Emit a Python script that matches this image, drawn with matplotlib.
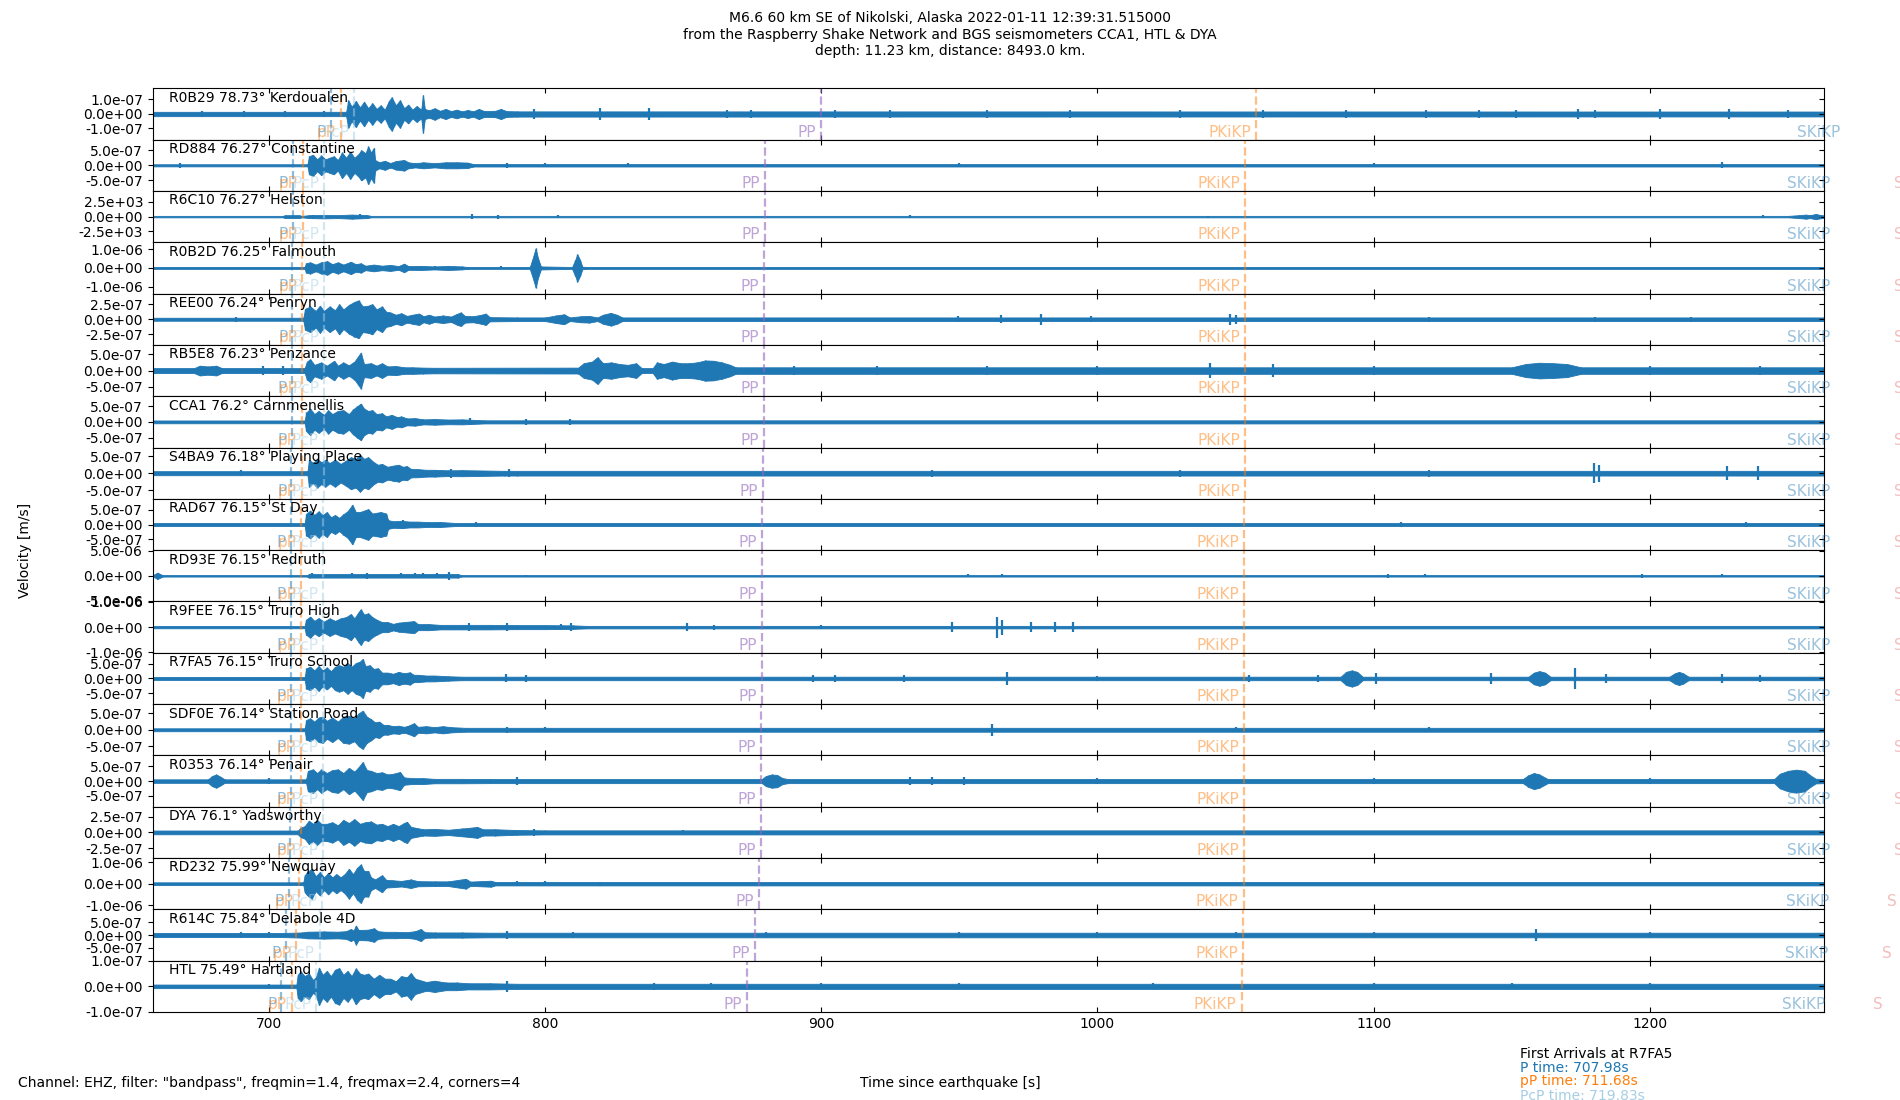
import numpy as np
import matplotlib
matplotlib.use('Agg')
import matplotlib.pyplot as plt
from matplotlib.ticker import FormatStrFormatter
from matplotlib.lines import TICKLEFT

# station info, top to bottom
codes = ['R0B29', 'RD884', 'R6C10', 'R0B2D', 'REE00', 'RB5E8', 'CCA1', 'S4BA9', 'RAD67',
         'RD93E', 'R9FEE', 'R7FA5', 'SDF0E', 'R0353', 'DYA', 'RD232', 'R614C', 'HTL']
dists = ['78.73', '76.27', '76.27', '76.25', '76.24', '76.23', '76.2', '76.18', '76.15',
         '76.15', '76.15', '76.15', '76.14', '76.14', '76.1', '75.99', '75.84', '75.49']
places = ['Kerdoualen', 'Constantine', 'Helston', 'Falmouth', 'Penryn', 'Penzance', 'Carnmenellis',
          'Playing Place', 'St Day', 'Redruth', 'Truro High', 'Truro School', 'Station Road',
          'Penair', 'Yadsworthy', 'Newquay', 'Delabole 4D', 'Hartland']
tick_units = [1e-7, 5e-7, 2.5e3, 1e-6, 2.5e-7, 5e-7, 5e-7, 5e-7, 5e-7,
              5e-6, 1e-6, 5e-7, 5e-7, 5e-7, 2.5e-7, 1e-6, 5e-7, 1e-7]
y_half = [1.77, 1.7, 1.75, 1.37, 1.7, 1.57, 1.64, 1.52, 1.75,
          1.02, 1.02, 1.75, 1.57, 1.75, 1.64, 1.2, 2.0, 1.0]

# arrival times [s]
t_P = [722.4, 708.6, 708.6, 708.5, 708.5, 708.4, 708.3, 708.2, 708.0,
       708.0, 708.0, 707.98, 707.95, 707.95, 707.8, 707.2, 706.2, 704.6]
t_pP = [726.1, 712.3, 712.3, 712.2, 712.2, 712.1, 712.0, 711.9, 711.7,
        711.7, 711.7, 711.68, 711.65, 711.65, 711.5, 710.9, 709.9, 708.3]
t_PcP = [730.9, 720.1, 720.1, 720.0, 720.0, 720.0, 719.9, 719.9, 719.8,
         719.8, 719.8, 719.83, 719.8, 719.8, 719.7, 719.3, 718.5, 717.1]
t_PP = [900.0, 879.5, 879.5, 879.4, 879.4, 879.3, 879.2, 879.0, 878.6,
        878.5, 878.4, 878.4, 878.3, 878.3, 878.1, 877.3, 876.0, 873.0]
t_PKiKP = [1057.5, 1053.4, 1053.4, 1053.4, 1053.4, 1053.3, 1053.3, 1053.3, 1053.2,
           1053.2, 1053.2, 1053.2, 1053.2, 1053.2, 1053.1, 1052.9, 1052.6, 1052.2]
t_SKiKP = [1270.8, 1267.2, 1267.2, 1267.2, 1267.2, 1267.1, 1267.1, 1267.0, 1267.0,
           1267.0, 1267.0, 1267.0, 1267.0, 1267.0, 1266.9, 1266.6, 1266.2, 1265.4]
t_S = [1310.0, 1293.8, 1293.8, 1293.8, 1293.8, 1293.8, 1293.8, 1293.8, 1293.8,
       1293.8, 1293.8, 1293.8, 1293.8, 1293.8, 1293.8, 1291.3, 1289.5, 1286.2]

# trace envelopes: (time s, half-amplitude in tick units)
env_kerdoualen = [(658, .15), (728, .15), (728.8, .95), (730, .5), (731.5, .9), (733, .45), (734.5, .85),
                  (736, .4), (737.5, .75), (739, .35), (740.5, .6), (742, .3), (743.5, .9), (744.5, 1.15),
                  (746, .6), (747.5, .95), (749, .4), (750.5, .65), (752, .3), (753.5, .55), (755.2, .3),
                  (755.8, 1.3), (756.5, .35), (758, .25), (760, .4), (762, .22), (764, .35), (766, .2),
                  (768, .3), (770, .18), (772, .28), (774, .18), (776, .35), (778, .2), (782, .22),
                  (784, .35), (786, .2), (790, .18), (1263, .17)]
spk_kerdoualen = [(676, .22), (691, .2), (706, .22), (720, .22), (796, .32), (820, .42), (837.6, .42),
                  (866, .28), (874.4, .27), (905, .25), (925, .25), (960, .27), (990, .25), (1030, .27),
                  (1060, .28), (1090, .25), (1119, .3), (1138, .28), (1151.5, .28), (1174, .32),
                  (1180, .28), (1203.5, .32), (1228.7, .32), (1250, .3)]

env_constantine = [(658, .07), (714, .07), (714.6, .6), (716, .7), (717.5, .4), (719, .65), (720.5, .4),
                   (722, .5), (723.5, .6), (725, .35), (726.5, .85), (728, .5), (729.5, .9), (731, .5),
                   (732.5, .75), (733.5, 1.0), (735, .8), (736, 1.25), (737, .85), (738, 1.15),
                   (738.5, .35), (740, .2), (742, .3), (744, .15), (746, .28), (749, .35), (750.5, .2),
                   (753, .14), (756, .2), (760, .14), (764, .2), (768, .2), (772, .18), (774, .08), (1263, .08)]
spk_constantine = [(668, .15), (786.4, .15), (800, .12), (830, .12), (950, .12), (1100, .12), (1226, .2)]

env_helston = [(658, .05), (705, .05), (706, .1), (711, .1), (712, .05), (714.6, .1), (720, .12),
               (725, .1), (730, .14), (735.7, .1), (737, .05), (1250, .05), (1254, .1), (1256.4, .14),
               (1258, .1), (1260, .18), (1261.5, .12), (1263, .08)]
spk_helston = [(716, .14), (733, .16), (773.7, .19), (782.8, .14), (804.8, .1), (932, .12), (1040, .07),
               (1241, .08)]

env_falmouth = [(658, .05), (713, .05), (713.5, .25), (715, .3), (717, .18), (719, .3), (721.2, .36),
                (723, .2), (725, .3), (727, .18), (729.7, .33), (731.5, .2), (733.3, .25), (735, .12),
                (738, .18), (741, .12), (744, .16), (747, .1), (749, .23), (750.5, .1), (755, .11),
                (760, .08), (765, .11), (770, .08), (772, .05), (794.5, .05), (795.5, .5), (796.6, 1.05),
                (797.5, .5), (798.5, .08), (809.8, .05), (811, .45), (811.7, .73), (812.6, .45),
                (813.5, .07), (815, .05), (1263, .05)]
spk_falmouth = [(760, .12), (784, .08)]

env_penryn = [(658, .1), (712.5, .1), (713.2, .7), (715, .85), (717, .55), (718.5, .9), (720, .55),
              (722, .85), (724, .6), (725.5, 1.0), (727, .65), (729, .95), (731, 1.15), (732.5, 1.25),
              (734, .85), (736, .9), (737.5, 1.0), (739, .65), (741, .85), (742.5, .5), (744, .45),
              (746, .3), (748, .4), (750, .22), (752, .3), (754.4, .38), (756, .2), (758, .3),
              (760, .18), (763, .25), (766, .18), (768, .35), (769.5, .45), (771, .22), (774, .2),
              (777, .3), (778.5, .38), (780, .14), (790, .12), (800, .12), (804, .25), (806.9, .33),
              (809, .12), (813, .2), (816, .22), (819, .12), (821, .3), (823.8, .42), (826, .3),
              (828, .12), (1263, .12)]
spk_penryn = [(688, .15), (949.6, .2), (965, .25), (979.4, .35), (997.8, .2), (1048, .35), (1050, .3),
              (1120, .15), (1180, .17), (1215, .15)]

env_penzance = [(658, .15), (673, .15), (675, .3), (678, .25), (681, .3), (683, .15), (713, .15),
                (713.8, .55), (715, .7), (716.5, .35), (719, .5), (721, .3), (723.7, .6), (725, .3),
                (727, .5), (729, .32), (731, .55), (733.3, 1.1), (734.5, .4), (737, .45), (739, .3),
                (741, .45), (743, .25), (746, .28), (749, .2), (752, .2), (756, .18), (760, .17),
                (812, .18), (814, .45), (817, .55), (819, .82), (821, .45), (824, .5), (827, .4),
                (830, .35), (833, .45), (835, .15), (839, .15), (840.5, .5), (843, .4), (846, .55),
                (849, .45), (852, .45), (855, .5), (858, .62), (861, .6), (864, .5), (867, .35),
                (869, .2), (1150, .2), (1155, .4), (1160, .48), (1165, .45), (1170, .4), (1175, .2),
                (1263, .2)]
spk_penzance = [(698, .25), (705, .25), (890, .25), (920, .25), (960, .25), (1000, .25), (1040.8, .45),
                (1063.6, .38), (1100, .25), (1200, .25), (1240, .28)]

env_carnmenellis = [(658, .09), (713, .09), (713.6, .6), (715, .85), (716.5, .5), (718, .7), (720, .45),
                    (721.5, .75), (723, .5), (725, .7), (727, .75), (729, .5), (730.5, .8), (732, 1.0),
                    (733.3, 1.17), (734.5, .85), (736, .7), (737.5, .75), (739, .5), (741, .55),
                    (742.5, .35), (744.5, .45), (746.5, .3), (748, .35), (750, .22), (753, .24),
                    (756, .16), (760, .18), (765, .15), (770, .16), (778, .1), (1263, .1)]
spk_carnmenellis = [(773, .22), (793, .2), (809, .18)]

env_playing = [(658, .12), (714, .12), (714.6, .8), (716, .6), (717.5, .85), (719, .65), (720.5, .8),
               (722, .6), (724, .8), (726, .55), (728, .75), (729.7, .95), (731.5, .85), (733, 1.1),
               (734.5, .85), (736, .95), (738, .65), (739.5, .5), (741, .55), (743, .38), (745, .45),
               (747, .5), (748.5, .38), (750, .42), (751.5, .25), (754, .24), (757, .2), (760, .2),
               (765, .17), (770, .18), (785, .14), (790, .14), (1263, .14)]
spk_playing = [(690, .17), (766, .26), (787, .25), (940, .2), (1030, .2), (1120, .2), (1179.8, .6),
               (1181.5, .5), (1228, .4), (1239, .42)]

env_stday = [(658, .1), (713, .1), (713.6, .75), (715, .95), (716.5, .65), (718, .9), (719.5, .65),
             (721, .85), (722.5, .5), (724, .65), (725.5, .45), (727, .7), (728.5, .9), (730.3, 1.35),
             (731.5, .85), (733, .85), (734.5, .95), (736, 1.05), (737.5, .75), (739, .8), (740.5, .85),
             (742.5, .75), (743.2, .3), (745, .22), (748, .25), (751, .2), (754, .2), (758, .16),
             (762, .17), (768, .1), (1263, .1)]
spk_stday = [(748.5, .32), (775, .18), (1110, .14), (1234.6, .2)]

env_redruth = [(658, .03), (659, .08), (659.7, .13), (660.5, .08), (661.5, .03), (714, .03), (714.5, .07),
               (768.5, .07), (769.5, .03), (1263, .03)]
spk_redruth = [(715.5, .1), (730, .1), (735.7, .11), (747.8, .1), (753, .1), (756, .1), (761, .1),
               (765.3, .16), (793, .05), (953, .06), (965.6, .06), (1105, .07), (1118.4, .06),
               (1197, .07), (1226, .06)]

env_truro_high = [(658, .045), (713, .045), (713.5, .3), (715, .42), (716.5, .25), (718, .36), (720, .22),
                  (722, .35), (724, .25), (726, .35), (728, .4), (729.7, .52), (731, .35), (732.5, .6),
                  (733.3, .71), (734.5, .5), (736, .55), (737.5, .4), (739, .3), (741, .2), (743, .2),
                  (745, .13), (747, .18), (752.6, .24), (754, .12), (758, .12), (762, .09), (770, .09),
                  (780, .09), (790, .08), (800, .08), (810, .07), (815, .05), (1263, .05)]
spk_truro_high = [(772.5, .16), (786.4, .16), (805.7, .13), (809.3, .15), (851.5, .16), (861, .1),
                  (900, .08), (947.4, .2), (963.6, .42), (965.5, .3), (975.9, .2), (984.6, .2), (991, .2)]

env_truro_school = [(658, .1), (713, .1), (713.6, .7), (715, .8), (716.5, .55), (718, .85), (719.5, .55),
                    (721, .75), (722.5, .5), (724, .8), (725.5, .9), (727, .8), (728.5, 1.05), (730, .8),
                    (731.5, 1.05), (733, 1.15), (734, 1.34), (735, .85), (736.5, .9), (738, .65),
                    (739.5, .7), (741, .4), (743, .4), (745, .32), (747, .45), (749, .35), (751, .42),
                    (752.5, .25), (754, .25), (757, .2), (760, .2), (765, .15), (770, .12),
                    (1088, .12), (1090, .45), (1092, .55), (1094, .45), (1096, .12),
                    (1156, .12), (1158, .4), (1160, .5), (1162, .4), (1164, .12),
                    (1207, .12), (1209, .35), (1210.5, .45), (1212, .35), (1214, .12), (1263, .12)]
spk_truro_school = [(786, .27), (793, .22), (897, .25), (905, .25), (930, .22), (967.1, .45), (1000, .2),
                    (1055, .25), (1080, .22), (1101, .35), (1142.5, .38), (1173, .72), (1184, .3),
                    (1225.9, .3), (1240, .25)]

env_station_road = [(658, .09), (713, .09), (713.6, .6), (715, .7), (716.5, .5), (718, .75), (719.5, .8),
                    (721, .55), (723, .75), (725, .5), (727, .8), (729, .85), (731, .7), (732.5, 1.0),
                    (734, 1.17), (735.5, .8), (737, .65), (738.5, .45), (740, .5), (741.5, .3), (743, .3),
                    (745, .22), (747, .25), (749, .18), (750.5, .25), (752.6, .4), (754, .18), (757, .22),
                    (760, .16), (763, .22), (766, .16), (771, .12), (1263, .12)]
spk_station_road = [(786.4, .18), (800, .14), (961.8, .38), (1050, .15), (1120, .15)]

env_penair = [(658, .12), (678, .12), (679.5, .35), (681, .45), (682.5, .3), (684, .12), (713.5, .12),
              (714.2, .7), (716, .8), (717.5, .55), (719, .8), (721, .55), (723, .75), (725, .8), (727, .55),
              (729, .9), (731, .65), (732.5, .95), (734, 1.3), (735.5, .75), (737, .7), (739, .55),
              (741, .6), (743, .45), (745, .5), (747.5, .62), (749, .25), (752, .2), (756, .2),
              (760, .15), (770, .15), (780, .14), (878.5, .14), (880, .35), (882, .45), (884, .42),
              (886, .2), (888, .14), (1154, .14), (1156, .4), (1158, .55), (1160, .45), (1163, .14),
              (1245, .14), (1247, .5), (1250, .7), (1253, .78), (1256, .7), (1258, .4), (1260, .16),
              (1263, .14)]
spk_penair = [(700, .18), (790, .28), (932, .3), (940, .25), (951.7, .28), (1000, .2), (1100, .2),
              (1200, .2)]

env_yadsworthy = [(658, .12), (710.5, .12), (711.5, .3), (713, .4), (714.5, .75), (716, .55), (717.5, .8),
                  (719, .55), (721, .55), (723, .65), (725, .45), (727, .8), (729, .6), (731, .85),
                  (733, .55), (735, .65), (737, .7), (739, .5), (741, .55), (743, .4), (745, .55),
                  (747, .4), (749, .6), (750, .68), (751.5, .35), (753, .3), (756, .2), (760, .22),
                  (765, .17), (770, .25), (773, .3), (775.5, .35), (777.5, .2), (782, .2), (790, .15),
                  (800, .13), (1263, .13)]
spk_yadsworthy = [(796, .2), (850, .17)]

env_newquay = [(658, .065), (712.5, .065), (713, .4), (714, .55), (715.5, .7), (717, .35), (718.5, .55),
               (720, .3), (721.5, .5), (723, .3), (724.5, .45), (726, .3), (727.5, .45), (729, .7),
               (730.5, .45), (732, .75), (733.3, .9), (734.5, .6), (736, .6), (737, .3), (738.5, .2),
               (741, .4), (742.5, .18), (745, .16), (748, .13), (751.4, .2), (754, .12), (760, .11),
               (765, .11), (771.3, .23), (773, .1), (780.4, .14), (782, .08), (1263, .08)]
spk_newquay = [(790, .12), (800, .12), (820, .1)]

env_delabole = [(658, .16), (705, .16), (712, .2), (714, .26), (720, .28), (725, .26), (728, .3),
                (729.7, .47), (730.7, .35), (731.5, .74), (732.5, .4), (734, .4), (736, .42), (738.1, .53),
                (739.5, .3), (742, .25), (746, .25), (750, .22), (753, .3), (755, .47), (756.5, .22),
                (760, .2), (770, .2), (780, .18), (1263, .18)]
spk_delabole = [(690, .2), (700, .22), (786.4, .34), (810, .25), (880, .25), (950, .22), (1000, .22),
                (1050, .25), (1100, .22), (1158.6, .45), (1200, .25)]

env_hartland = [(658, .07), (710, .07), (710.5, .45), (711.5, .58), (713, .4), (714.5, .5), (716, .25),
                (717, .35), (718.2, .73), (719.5, .45), (721, .6), (722.5, .4), (724, .65), (725.5, .71),
                (727, .45), (728.5, .6), (730, .4), (731.5, .7), (733, .5), (734.5, .45), (736, .5),
                (738, .3), (740, .45), (742, .3), (744, .3), (746, .2), (748, .4), (750, .35),
                (751.4, .52), (753, .3), (754.5, .25), (757, .17), (760, .22), (764, .15), (768, .15),
                (772, .12), (780, .12), (790, .1), (1263, .1)]
spk_hartland = [(700, .1), (786.4, .22), (839.5, .13), (860, .12), (900, .12), (950, .12), (1020, .12),
                (1100, .12), (1150, .12), (1200, .12)]

envelopes = [env_kerdoualen, env_constantine, env_helston, env_falmouth, env_penryn, env_penzance,
             env_carnmenellis, env_playing, env_stday, env_redruth, env_truro_high, env_truro_school,
             env_station_road, env_penair, env_yadsworthy, env_newquay, env_delabole, env_hartland]
spikes = [spk_kerdoualen, spk_constantine, spk_helston, spk_falmouth, spk_penryn, spk_penzance,
          spk_carnmenellis, spk_playing, spk_stday, spk_redruth, spk_truro_high, spk_truro_school,
          spk_station_road, spk_penair, spk_yadsworthy, spk_newquay, spk_delabole, spk_hartland]

phases = [('P', t_P, '#1f77b4', 0.5), ('pP', t_pP, '#ff7f0e', 0.5), ('PcP', t_PcP, '#a6cee3', 0.5),
          ('PP', t_PP, '#9467bd', 0.6), ('PKiKP', t_PKiKP, '#ff7f0e', 0.5),
          ('SKiKP', t_SKiKP, '#1f77b4', 0.45), ('S', t_S, '#d62728', 0.3)]

x_min, x_max = 658.0, 1263.0

fig, axs = plt.subplots(len(codes), 1, sharex=True, figsize=(19, 11), dpi=100)
plt.subplots_adjust(left=0.0804, right=0.96, top=0.9197, bottom=0.08, hspace=0)

for i, ax in enumerate(axs):
    u = tick_units[i]
    env = sorted(envelopes[i])
    et = [p[0] for p in env]
    ea = np.array([p[1] for p in env]) * u
    ax.fill_between(et, -ea, ea, color='C0', lw=0.6)
    ax.vlines(et, -ea, ea, color='C0', lw=1.0)
    st = [p[0] for p in spikes[i]]
    sa = np.array([p[1] for p in spikes[i]]) * u
    ax.vlines(st, -sa, sa, color='C0', lw=1.6)

    trans = ax.get_xaxis_transform()
    for name, times, col, al in phases:
        ax.axvline(times[i], color=col, ls='--', lw=1.6, alpha=al)
        ax.text(times[i] - 1.8, 0.058, name, color=col, alpha=al, fontsize=11,
                ha='right', va='baseline', transform=trans)

    ax.text(0.01, 0.739, f'{codes[i]} {dists[i]}° {places[i]}', transform=ax.transAxes,
            fontsize=10, va='baseline', ha='left')

    h = y_half[i] * u
    ax.set_ylim(-h, h)
    ax.set_xlim(x_min, x_max)
    ax.set_yticks([-u, 0, u])
    ax.yaxis.set_major_formatter(FormatStrFormatter('%.1e'))
    ax.tick_params(axis='x', direction='in', top=True, bottom=True, labelsize=10)
    ax.tick_params(axis='y', direction='out', right=True, labelsize=10)
    for tk in ax.yaxis.get_major_ticks():
        tk.tick2line.set_marker(TICKLEFT)

fig.suptitle('M6.6 60 km SE of Nikolski, Alaska 2022-01-11 12:39:31.515000\n'
             'from the Raspberry Shake Network and BGS seismometers CCA1, HTL & DYA\n'
             'depth: 11.23 km, distance: 8493.0 km.', fontsize=10, y=0.9897, va='top')
fig.text(18 / 1900, 0.5, 'Velocity [m/s]', rotation=90, ha='left', va='center', fontsize=10)
fig.text(18 / 1900, 1 - 1082.5 / 1100, 'Channel: EHZ, filter: "bandpass", freqmin=1.4, freqmax=2.4, corners=4',
         ha='left', va='center', fontsize=10)
fig.text(0.5, 1 - 1082.5 / 1100, 'Time since earthquake [s]', ha='center', va='center', fontsize=10)

fig.text(1520 / 1900, 1 - 1053.5 / 1100, 'First Arrivals at R7FA5', ha='left', va='center', fontsize=10)
fig.text(1520 / 1900, 1 - 1067.5 / 1100, f'P time: {t_P[11]:.2f}s', color='#1f77b4', ha='left', va='center', fontsize=10)
fig.text(1520 / 1900, 1 - 1081.5 / 1100, f'pP time: {t_pP[11]:.2f}s', color='#ff7f0e', ha='left', va='center', fontsize=10)
fig.text(1520 / 1900, 1 - 1095.5 / 1100, f'PcP time: {t_PcP[11]:.2f}s', color='#a6cee3', ha='left', va='center', fontsize=10)

fig.savefig('out.png', dpi=100)
